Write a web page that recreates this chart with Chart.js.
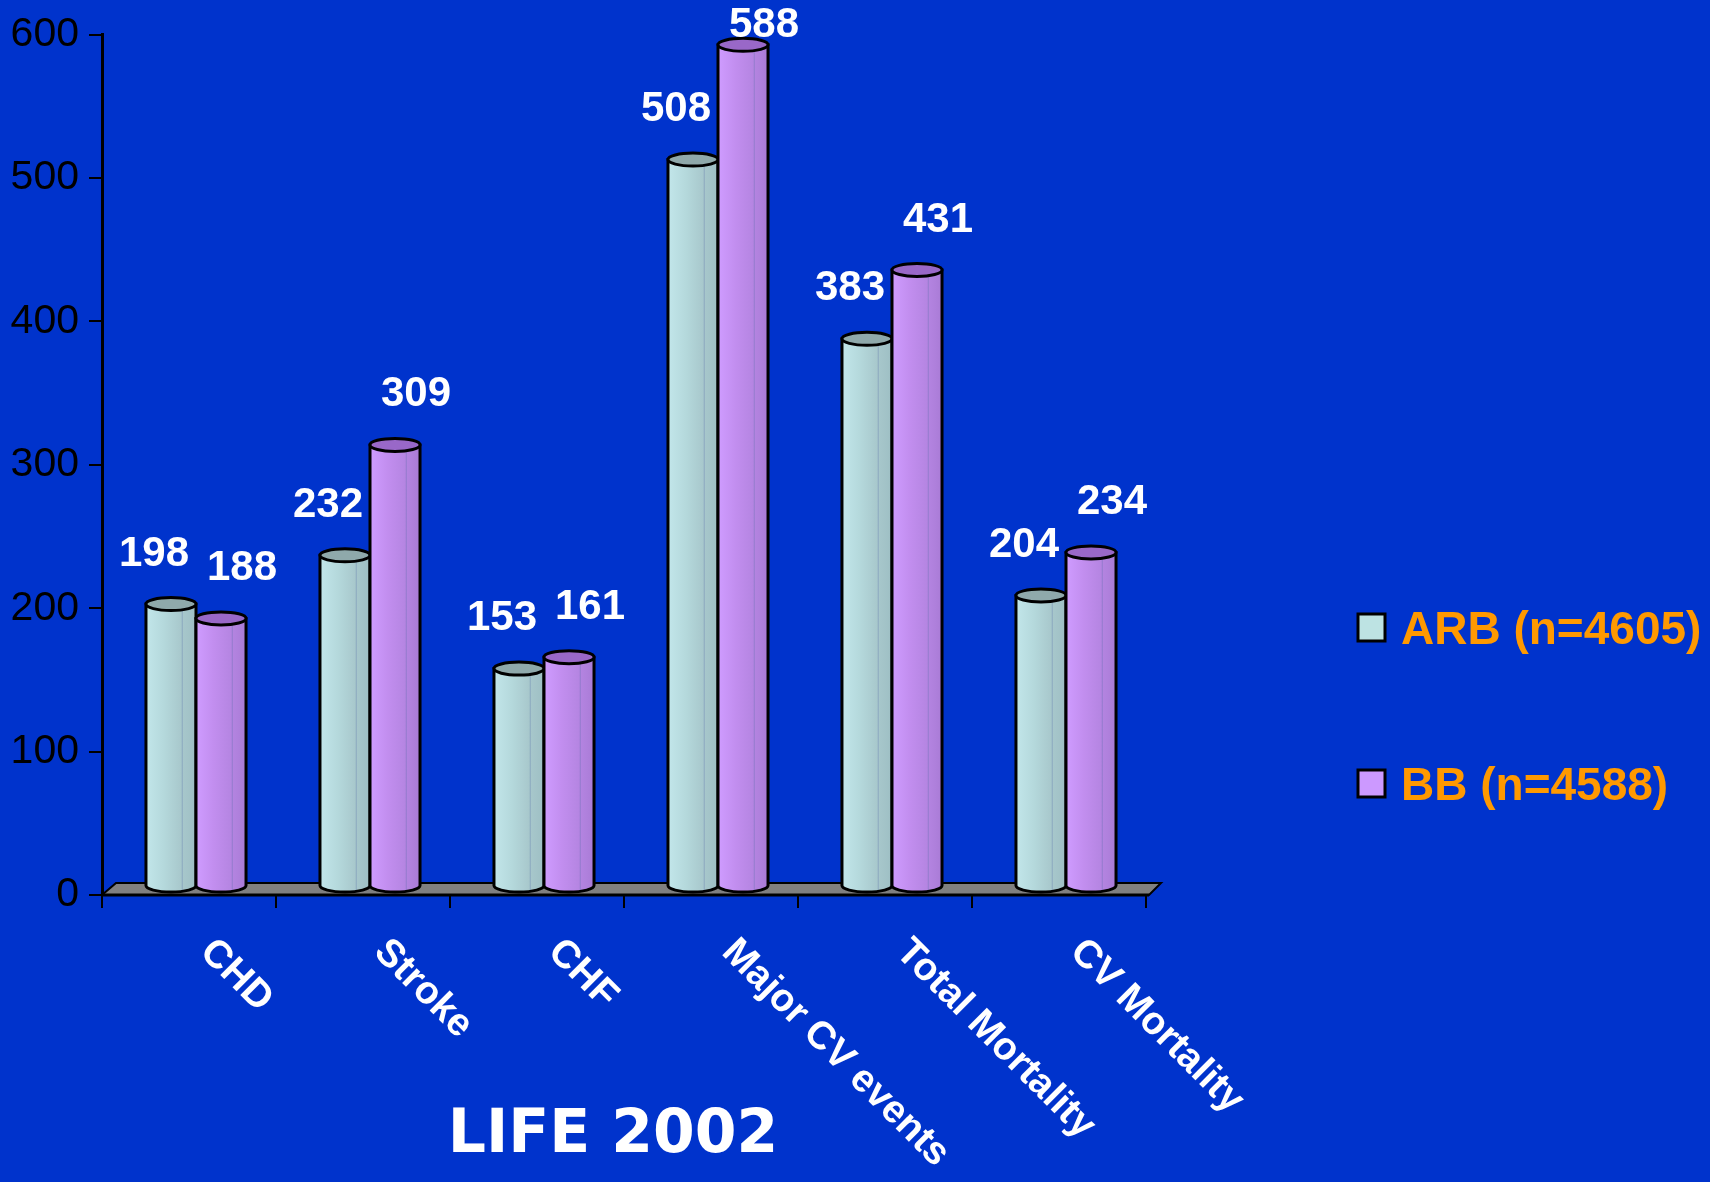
<!DOCTYPE html>
<html><head><meta charset="utf-8">
<style>html,body{margin:0;padding:0;background:#0033cc;}canvas{display:block}</style>
<script src="https://cdn.jsdelivr.net/npm/chart.js@4.4.1/dist/chart.umd.min.js"></script>
</head><body>
<canvas id="c" width="1710" height="1182"></canvas>
<script>
const categories = ['CHD', 'Stroke', 'CHF', 'Major CV events', 'Total Mortality', 'CV Mortality'];
const arbValues = [198, 232, 153, 508, 383, 204];
const bbValues = [188, 309, 161, 588, 431, 234];
const seriesNames = ['ARB (n=4605)', 'BB (n=4588)'];
const yTicks = [0, 100, 200, 300, 400, 500, 600];
const chartTitle = 'LIFE 2002';

const BG = '#0033cc';
const styles = [
  {legend: '#bde3e3', cap: '#8fa9ab', shade: [[0, '#c2e6ea'], [0.35, '#b5d9dc'], [0.7, '#a8c8cc'], [1, '#9ebfc4']], labelDx: -17},
  {legend: '#cc99ff', cap: '#9968c8', shade: [[0, '#cf9cff'], [0.35, '#c28eef'], [0.7, '#b585e2'], [1, '#a97bd6']], labelDx: 21}
];
const DEPTH_X = 7, DEPTH_Y = 7;

const bgPlugin = {
  id: 'bg',
  beforeDraw(chart) {
    const ctx = chart.ctx;
    ctx.save();
    ctx.fillStyle = BG;
    ctx.fillRect(0, 0, chart.width, chart.height);
    ctx.restore();
  }
};

const floorPlugin = {
  id: 'floor',
  beforeDatasetsDraw(chart) {
    const {ctx, chartArea: a} = chart;
    ctx.save();
    ctx.beginPath();
    ctx.moveTo(a.left, a.bottom);
    ctx.lineTo(a.left + 14, a.bottom - 12);
    ctx.lineTo(a.right + 15, a.bottom - 12);
    ctx.lineTo(a.right + 3, a.bottom);
    ctx.closePath();
    ctx.fillStyle = '#808080';
    ctx.fill();
    ctx.lineWidth = 2;
    ctx.strokeStyle = '#000';
    ctx.stroke();
    ctx.beginPath();
    ctx.moveTo(a.left, a.bottom);
    ctx.lineTo(a.right + 3, a.bottom);
    ctx.lineWidth = 3;
    ctx.stroke();
    ctx.restore();
  }
};

const cylPlugin = {
  id: 'cyl',
  afterDatasetsDraw(chart) {
    const ctx = chart.ctx;
    ctx.save();
    chart.data.datasets.forEach((ds, di) => {
      const st = styles[di];
      chart.getDatasetMeta(di).data.forEach(bar => {
        const p = bar.getProps(['x', 'y', 'base', 'width'], true);
        const x = p.x + DEPTH_X, rx = p.width / 2, ry = 6.5, top = p.y - DEPTH_Y, bot = p.base - 2;
        const g = ctx.createLinearGradient(x - rx, 0, x + rx, 0);
        st.shade.forEach(([s, c]) => g.addColorStop(s, c));
        ctx.beginPath();
        ctx.moveTo(x - rx, top);
        ctx.lineTo(x - rx, bot - ry);
        ctx.ellipse(x, bot - ry, rx, ry, 0, Math.PI, 0, true);
        ctx.lineTo(x + rx, top);
        ctx.closePath();
        ctx.fillStyle = g;
        ctx.fill();
        ctx.lineWidth = 3;
        ctx.strokeStyle = '#000';
        ctx.stroke();
        ctx.beginPath();
        ctx.moveTo(x + rx * 0.45, top + ry);
        ctx.lineTo(x + rx * 0.45, bot - 2);
        ctx.lineWidth = 1;
        ctx.strokeStyle = 'rgba(90,110,170,0.35)';
        ctx.stroke();
        ctx.beginPath();
        ctx.ellipse(x, top, rx, ry, 0, 0, Math.PI * 2);
        ctx.fillStyle = st.cap;
        ctx.fill();
        ctx.lineWidth = 3;
        ctx.strokeStyle = '#000';
        ctx.stroke();
      });
    });
    ctx.fillStyle = '#ffffff';
    ctx.font = 'bold 42px "Liberation Sans", Arial, sans-serif';
    ctx.textAlign = 'center';
    ctx.textBaseline = 'middle';
    chart.data.datasets.forEach((ds, di) => {
      chart.getDatasetMeta(di).data.forEach((bar, i) => {
        const p = bar.getProps(['x', 'y'], true);
        const ly = Math.max(p.y - DEPTH_Y - 50, 25);
        ctx.fillText(String(ds.data[i]), p.x + DEPTH_X + styles[di].labelDx, ly);
      });
    });
    ctx.restore();
  }
};

const textPlugin = {
  id: 'texts',
  afterDraw(chart) {
    const ctx = chart.ctx;
    const xs = chart.scales.x;
    ctx.save();
    ctx.fillStyle = '#ffffff';
    ctx.font = 'bold 39px "Liberation Sans", Arial, sans-serif';
    ctx.textAlign = 'left';
    ctx.textBaseline = 'top';
    chart.data.labels.forEach((lab, i) => {
      const x = xs.getPixelForValue(i) + 31;
      ctx.save();
      ctx.translate(x, chart.chartArea.bottom + 37);
      ctx.rotate(Math.PI / 4);
      ctx.fillText(lab, 0, 0);
      ctx.restore();
    });
    ctx.font = 'bold 46px "Liberation Sans", Arial, sans-serif';
    ctx.textBaseline = 'alphabetic';
    chart.data.datasets.forEach((ds, di) => {
      const by = 614 + di * 156;
      ctx.fillStyle = styles[di].legend;
      ctx.fillRect(1358, by, 27, 27);
      ctx.lineWidth = 3;
      ctx.strokeStyle = '#000';
      ctx.strokeRect(1358, by, 27, 27);
      ctx.fillStyle = '#ff9900';
      ctx.fillText(ds.label, 1401, by + 30);
    });
    ctx.fillStyle = '#ffffff';
    ctx.font = 'bold 60px "DejaVu Sans", Verdana, sans-serif';
    ctx.textAlign = 'center';
    ctx.fillText(chartTitle, 613, 1152);
    ctx.restore();
  }
};

new Chart(document.getElementById('c'), {
  type: 'bar',
  data: {
    labels: categories,
    datasets: [
      {label: seriesNames[0], data: arbValues, backgroundColor: 'rgba(0,0,0,0)', borderWidth: 0},
      {label: seriesNames[1], data: bbValues, backgroundColor: 'rgba(0,0,0,0)', borderWidth: 0}
    ]
  },
  options: {
    responsive: false,
    animation: false,
    layout: {padding: {left: 0, top: 30, right: 564, bottom: 267}},
    plugins: {legend: {display: false}, tooltip: {enabled: false}, title: {display: false}},
    datasets: {bar: {categoryPercentage: 0.575, barPercentage: 1}},
    scales: {
      x: {
        offset: true,
        grid: {display: true, offset: true, drawOnChartArea: false, drawTicks: true, tickLength: 13, color: '#000', lineWidth: 2},
        border: {display: false},
        ticks: {display: false},
        afterFit: s => { s.height = 20; }
      },
      y: {
        min: 0, max: 600,
        afterBuildTicks: s => { s.ticks = yTicks.map(v => ({value: v})); },
        grid: {display: true, drawOnChartArea: false, drawTicks: true, tickLength: 13, color: '#000', lineWidth: 2},
        border: {display: true, color: '#000', width: 3},
        ticks: {color: '#000', padding: 10, font: {family: '"Liberation Sans", Arial, sans-serif', size: 41}},
        afterFit: s => { s.width = 102; }
      }
    }
  },
  plugins: [bgPlugin, floorPlugin, cylPlugin, textPlugin]
});
</script>
</body></html>
